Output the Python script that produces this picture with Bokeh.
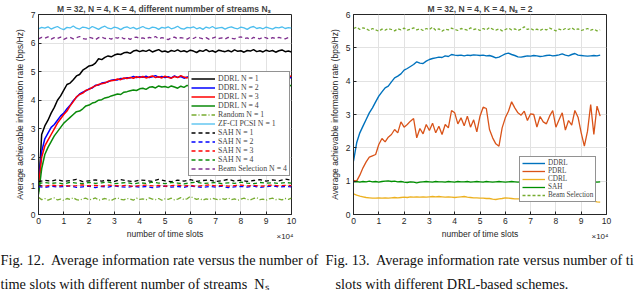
import numpy as np
from bokeh.plotting import figure
from bokeh.models import Legend, LegendItem, Label, FixedTicker, Range1d, Title
from bokeh.layouts import column, row
from bokeh.embed import file_html
from bokeh.resources import INLINE

# ---------------- data (x in units of 10^4 time slots) ----------------
x_left = np.arange(81) * 0.125
x_sah = np.arange(41) * 0.25
x_right = np.arange(79) * 0.125

ddrl_n1 = [0.80,2.80,3.10,3.30,3.55,3.75,4.00,4.15,4.35,4.55,
           4.60,4.72,4.85,4.90,5.05,5.12,5.20,5.22,5.30,5.45,
           5.42,5.50,5.55,5.52,5.58,5.62,5.60,5.66,5.68,5.64,
           5.72,5.75,5.70,5.74,5.71,5.76,5.69,5.73,5.77,5.70,
           5.72,
           5.68,5.74,5.71,5.76,5.70,5.73,5.69,5.75,5.72,5.67,
           5.74,5.71,5.77,5.70,5.73,5.68,5.75,5.72,5.70,5.74,
           5.69,5.76,5.71,5.73,5.68,5.74,5.72,5.77,5.70,5.73,
           5.69,5.75,5.71,5.74,5.68,5.73,5.76,5.70,5.72,5.69]
ddrl_n2 = [1.10,2.20,2.65,2.85,3.05,3.15,3.30,3.45,3.55,3.70,
           3.82,3.98,4.10,4.22,4.28,4.33,4.40,4.43,4.52,4.53,
           4.60,4.62,4.64,4.70,4.72,4.71,4.76,4.75,4.79,4.78,
           4.83,4.79,4.82,4.80,4.84,4.79,4.82,4.86,4.80,4.83,
           4.79,
           4.82,4.78,4.85,4.80,4.83,4.77,4.81,4.86,4.79,4.82,
           4.78,4.84,4.80,4.76,4.83,4.81,4.78,4.85,4.79,4.82,
           4.80,4.77,4.84,4.81,4.79,4.83,4.78,4.82,4.80,4.76,
           4.84,4.79,4.82,4.78,4.81,4.80,4.83,4.79,4.81,4.78]
ddrl_n3 = [1.00,2.00,2.40,2.60,2.80,3.00,3.20,3.35,3.50,3.62,
           3.80,3.95,4.12,4.20,4.25,4.35,4.38,4.45,4.50,4.55,
           4.58,4.60,4.66,4.68,4.70,4.74,4.72,4.78,4.76,4.80,
           4.77,4.82,4.79,4.83,4.78,4.81,4.85,4.79,4.82,4.78,
           4.84,
           4.80,4.77,4.83,4.79,4.86,4.81,4.78,4.84,4.80,4.76,
           4.82,4.79,4.85,4.81,4.78,4.83,4.80,4.77,4.84,4.81,
           4.79,4.86,4.80,4.78,4.83,4.81,4.77,4.84,4.80,4.82,
           4.78,4.85,4.81,4.79,4.83,4.80,4.77,4.84,4.82,4.85]
ddrl_n4 = [0.70,1.60,2.10,2.35,2.55,2.75,2.90,3.05,3.20,3.30,
           3.40,3.50,3.60,3.62,3.70,3.80,3.83,3.90,3.93,4.00,
           4.02,4.08,4.10,4.15,4.18,4.22,4.20,4.28,4.30,4.33,
           4.36,4.34,4.40,4.42,4.38,4.45,4.47,4.43,4.50,4.46,
           4.48,
           4.44,4.50,4.46,4.42,4.49,4.45,4.52,4.47,4.43,4.50,
           4.46,4.48,4.44,4.51,4.47,4.45,4.49,4.43,4.48,4.46,
           4.52,4.47,4.44,4.50,4.46,4.49,4.45,4.51,4.47,4.44,
           4.48,4.46,4.50,4.45,4.49,4.47,4.52,4.46,4.48,4.53]
random_n1 = [0.60,0.52,0.56,0.50,0.55,0.58,0.51,0.54,0.49,0.56,0.53,0.59,0.52,0.50,0.55,0.57,0.51,0.54,0.58,0.50,
             0.53,0.56,0.52,0.49,0.55,0.58,0.53,0.51,0.56,0.54,0.50,0.57,0.53,0.55,0.51,0.58,0.54,0.52,0.56,0.50,
             0.55,0.53,0.57,0.51,0.54,0.59,0.52,0.55,0.63,0.58,0.53,0.56,0.50,0.55,0.52,0.57,0.54,0.51,0.56,0.53,
             0.58,0.52,0.55,0.50,0.54,0.57,0.53,0.51,0.56,0.59,0.52,0.54,0.50,0.55,0.57,0.52,0.54,0.51,0.56,0.53,0.57]
zfci_n1 = [6.50,6.55,6.52,6.57,6.49,6.54,6.58,6.51,6.47,6.55,6.53,6.60,6.52,6.49,6.56,6.54,6.50,6.58,6.53,6.48,
           6.55,6.59,6.52,6.50,6.56,6.53,6.47,6.54,6.57,6.51,6.55,6.49,6.53,6.58,6.52,6.50,6.56,6.54,6.48,6.55,
           6.52,6.57,6.50,6.53,6.59,6.51,6.49,6.55,6.53,6.57,6.50,6.54,6.48,6.56,6.52,6.58,6.51,6.53,6.55,6.49,
           6.54,6.57,6.52,6.50,6.56,6.53,6.48,6.55,6.58,6.51,6.54,6.50,6.56,6.52,6.49,6.55,6.53,6.57,6.51,6.54,6.52]
beam_n4 = [6.15,6.20,6.17,6.22,6.14,6.19,6.16,6.21,6.13,6.18,6.20,6.15,6.19,6.23,6.16,6.14,6.20,6.17,6.12,6.19,
           6.21,6.16,6.18,6.14,6.20,6.17,6.22,6.15,6.18,6.13,6.19,6.21,6.16,6.18,6.14,6.20,6.17,6.23,6.15,6.19,
           6.16,6.12,6.18,6.21,6.15,6.19,6.17,6.14,6.20,6.16,6.22,6.18,6.15,6.19,6.13,6.17,6.21,6.16,6.18,6.14,
           6.20,6.17,6.15,6.19,6.22,6.16,6.18,6.13,6.20,6.17,6.15,6.21,6.18,6.14,6.19,6.16,6.20,6.17,6.15,6.19,6.18]
sah_n1 = [1.15,1.20,1.17,1.22,1.16,1.19,1.23,1.15,1.18,1.21,1.17,1.20,1.16,1.22,1.18,1.15,1.21,1.19,1.16,1.23,
          1.18,1.15,1.20,1.17,1.22,1.16,1.19,1.21,1.15,1.18,1.23,1.17,1.20,1.16,1.19,1.22,1.17,1.21,1.18,1.24,1.20]
sah_n2 = [0.98,0.95,0.99,0.96,0.98,1.00,0.95,0.97,0.99,0.94,0.98,0.96,1.00,0.97,0.95,0.99,0.96,0.98,0.94,0.97,
          0.99,0.96,0.98,0.95,1.00,0.97,0.95,0.98,0.96,0.99,0.94,0.97,0.98,0.96,0.99,0.95,0.97,1.00,0.96,0.98,0.97]
sah_n3 = [1.02,0.99,1.03,1.00,1.02,0.99,1.01,1.04,1.00,1.02,0.99,1.03,1.01,1.00,1.02,0.98,1.01,1.03,1.00,1.02,
          0.99,1.01,1.03,1.00,1.02,0.99,1.01,1.04,1.00,1.02,0.99,1.01,1.03,1.00,1.02,0.99,1.01,1.03,1.00,1.02,1.01]
sah_n4 = [1.08,1.12,1.09,1.11,1.07,1.13,1.10,1.08,1.12,1.09,1.11,1.14,1.08,1.10,1.12,1.07,1.11,1.09,1.13,1.10,
          1.08,1.12,1.10,1.07,1.11,1.13,1.09,1.10,1.12,1.08,1.11,1.09,1.13,1.10,1.08,1.12,1.10,1.11,1.09,1.12,1.10]

r_ddrl = [1.60,2.15,2.45,2.65,2.85,3.05,3.20,3.38,3.55,3.68,
          3.80,3.85,3.98,4.10,4.15,4.22,4.33,4.38,4.44,4.50,
          4.58,4.54,4.53,4.60,4.65,4.68,4.70,4.72,4.71,4.76,
          4.74,4.80,4.78,4.77,4.78,4.76,4.78,4.77,4.79,4.78,
          4.77,4.78,4.76,4.77,4.74,4.70,4.72,4.77,4.82,4.84,
          4.80,4.77,4.73,4.72,4.74,4.76,4.75,4.77,4.76,4.74,
          4.75,4.77,4.78,4.76,4.77,4.79,4.82,4.78,4.76,4.80,
          4.83,4.78,4.77,4.76,4.75,4.76,4.77,4.76,4.78]
r_pdrl = [1.02,1.00,1.18,1.40,1.58,1.72,1.76,1.80,2.10,2.28,
          2.18,2.32,2.40,2.55,2.45,2.78,2.62,2.70,2.80,2.88,
          2.30,2.58,2.42,2.70,2.52,2.74,2.45,2.65,2.40,2.70,
          2.60,3.12,3.05,2.72,2.90,2.66,2.95,2.62,2.84,2.48,
          2.95,3.22,3.18,2.55,2.30,2.12,2.05,2.60,2.90,3.10,
          3.38,3.20,3.05,2.98,3.10,2.82,3.02,3.00,2.62,2.94,
          2.78,2.72,2.95,3.12,2.62,2.84,3.05,2.53,2.82,2.68,
          3.12,2.92,2.45,2.05,2.50,3.30,2.40,3.25,2.95]
r_cdrl = [0.62,0.58,0.55,0.53,0.51,0.50,0.49,0.49,0.50,0.49,0.50,0.49,0.50,0.51,0.50,0.51,0.52,0.51,0.53,0.52,
          0.53,0.52,0.53,0.52,0.53,0.54,0.53,0.54,0.53,0.52,0.53,0.52,0.51,0.52,0.53,0.54,0.52,0.51,0.50,0.50,
          0.49,0.49,0.48,0.48,0.46,0.45,0.47,0.48,0.50,0.49,0.48,0.47,0.47,0.47,0.46,0.47,0.47,0.46,0.46,0.47,
          0.47,0.46,0.46,0.47,0.47,0.46,0.46,0.45,0.45,0.45,0.44,0.44,0.43,0.43,0.42,0.41,0.40,0.38,0.37]
r_sah = [0.98,0.99,0.97,0.99,0.98,1.00,0.98,0.99,0.97,0.99,1.00,1.01,0.99,1.00,0.98,0.99,0.97,0.96,0.98,0.97,
         0.95,0.97,0.98,0.99,0.98,0.97,0.99,0.98,0.98,0.97,0.99,0.98,0.97,0.99,0.98,0.98,0.99,0.97,0.98,0.99,
         0.98,0.97,0.99,0.98,0.97,0.98,0.99,0.98,0.97,0.98,0.99,0.98,0.97,0.98,0.98,0.99,0.97,0.98,0.99,0.98,
         0.97,0.98,0.99,0.98,0.97,0.98,0.98,0.99,0.97,0.98,0.99,0.98,0.98,0.97,0.98,0.99,0.98,0.97,0.98]
r_beam = [5.58,5.62,5.55,5.60,5.57,5.52,5.58,5.54,5.50,5.56,5.53,5.58,5.55,5.51,5.57,5.54,5.59,5.53,5.56,5.60,
          5.54,5.57,5.52,5.58,5.55,5.62,5.53,5.57,5.50,5.56,5.54,5.59,5.55,5.52,5.58,5.56,5.53,5.60,5.55,5.57,
          5.52,5.58,5.54,5.61,5.56,5.53,5.57,5.51,5.55,5.59,5.54,5.57,5.52,5.56,5.63,5.55,5.58,5.53,5.56,5.52,
          5.57,5.54,5.59,5.55,5.51,5.56,5.53,5.58,5.55,5.60,5.54,5.57,5.52,5.55,5.58,5.53,5.56,5.51,5.54]

x_ticks = list(range(0, 11))

for arr in (ddrl_n1, ddrl_n2, ddrl_n3, ddrl_n4, random_n1, zfci_n1, beam_n4):
    assert len(arr) == len(x_left), len(arr)
for arr in (sah_n1, sah_n2, sah_n3, sah_n4):
    assert len(arr) == len(x_sah), len(arr)
for arr in (r_ddrl, r_pdrl, r_cdrl, r_sah, r_beam):
    assert len(arr) == len(x_right), len(arr)

# ---------------- styling ----------------
SANS = "Liberation Sans"
SERIF = "Liberation Serif"
AX = "#262626"


def make_fig(ymax, title, bl, br):
    p = figure(width=320, height=244, x_range=Range1d(0, 10), y_range=Range1d(0, ymax),
               output_backend="svg", toolbar_location=None,
               min_border_left=bl, min_border_right=br, min_border_top=14, min_border_bottom=30)
    p.title.text = title
    p.title.text_font = SANS
    p.title.text_font_size = "8.5px"
    p.title.text_font_style = "bold"
    p.title.align = "center"
    p.title.standoff = 2
    p.xaxis.ticker = FixedTicker(ticks=x_ticks)
    p.yaxis.ticker = FixedTicker(ticks=list(range(0, ymax + 1)))
    for ax in (p.xaxis[0], p.yaxis[0]):
        ax.major_tick_in = 3
        ax.major_tick_out = 0
        ax.minor_tick_line_color = None
        ax.axis_line_color = AX
        ax.major_tick_line_color = AX
        ax.major_label_text_font = SANS
        ax.major_label_text_font_size = "8.5px"
        ax.major_label_text_color = AX
        ax.axis_label_text_font = SANS
        ax.axis_label_text_font_size = "8.5px"
        ax.axis_label_text_font_style = "normal"
        ax.axis_label_text_color = AX
    p.xaxis.major_label_standoff = 3
    p.yaxis.major_label_standoff = 3
    p.xaxis.axis_label_standoff = 2
    p.yaxis.axis_label_standoff = 3
    p.xaxis.axis_label = "number of time slots"
    p.yaxis.axis_label = "Average achievable information rate (bps/Hz)"
    p.grid.grid_line_color = "#e2e2e2"
    p.outline_line_color = AX
    p.outline_line_alpha = 1
    p.add_layout(Title(text="×10⁴", align="right", vertical_align="top", text_font=SANS,
                       text_font_size="8px", text_font_style="normal", text_color=AX,
                       standoff=-20, offset=-2),
                 "below")
    return p


def make_legend(items, loc, font_size, row_h, glyph_w):
    lg = Legend(items=items, location=loc)
    lg.label_text_font = SERIF
    lg.label_text_font_size = font_size
    lg.label_height = row_h
    lg.glyph_height = row_h
    lg.glyph_width = glyph_w
    lg.spacing = 0
    lg.padding = 2
    lg.margin = 0
    lg.label_standoff = 3
    lg.border_line_color = AX
    lg.border_line_width = 0.8
    lg.background_fill_alpha = 1
    return lg


# ---------------- left plot ----------------
p1 = make_fig(7, "M = 32, N = 4, K = 4, different nummber of streams  Nₛ", 38, 29)
G = "#0a8a0a"
r = {}
r["d1"] = p1.line(x_left, ddrl_n1, line_color="black", line_width=1.5)
r["d2"] = p1.line(x_left, ddrl_n2, line_color="#0000ff", line_width=1.5)
r["d3"] = p1.line(x_left, ddrl_n3, line_color="#ff0000", line_width=1.5)
r["d4"] = p1.line(x_left, ddrl_n4, line_color=G, line_width=1.5)
r["rnd"] = p1.line(x_left, random_n1, line_color="#77ac30", line_width=1.3, line_dash="5 2 1 2")
r["zf"] = p1.line(x_left, zfci_n1, line_color="#4dbeee", line_width=1.3)
r["s1"] = p1.line(x_sah, sah_n1, line_color="black", line_width=1.3, line_dash="4 3")
r["s2"] = p1.line(x_sah, sah_n2, line_color="#0000ff", line_width=1.3, line_dash="4 3")
r["s3"] = p1.line(x_sah, sah_n3, line_color="#ff0000", line_width=1.3, line_dash="4 3")
r["s4"] = p1.line(x_sah, sah_n4, line_color=G, line_width=1.3, line_dash="4 3")
r["bs"] = p1.line(x_left, beam_n4, line_color="#7e2f8e", line_width=1.3, line_dash="4 3")

labels_left = [("DDRL N = 1", "d1"), ("DDRL N = 2", "d2"), ("DDRL N = 3", "d3"),
               ("DDRL N = 4", "d4"), ("Random N = 1", "rnd"), ("ZF-CI PCSI N = 1", "zf"),
               ("SAH N = 1", "s1"), ("SAH N = 2", "s2"), ("SAH N = 3", "s3"),
               ("SAH N = 4", "s4"), ("Beam Selection N = 4", "bs")]
leg1 = make_legend([LegendItem(label=t, renderers=[r[k]]) for t, k in labels_left],
                   (150, 38), "7.8px", 9, 24)
p1.add_layout(leg1)

# ---------------- right plot ----------------
p2 = make_fig(6, "M = 32, N = 4, K = 4, Nₛ = 2", 33, 34)
q = {}
q["ddrl"] = p2.line(x_right, r_ddrl, line_color="#0072bd", line_width=1.4)
q["pdrl"] = p2.line(x_right, r_pdrl, line_color="#d95319", line_width=1.3)
q["cdrl"] = p2.line(x_right, r_cdrl, line_color="#edb120", line_width=1.3)
q["sah"] = p2.line(x_right, r_sah, line_color="#008f00", line_width=1.3)
q["bs"] = p2.line(x_right, r_beam, line_color="#77ac30", line_width=1.3, line_dash="3 2")
labels_right = [("DDRL", "ddrl"), ("PDRL", "pdrl"), ("CDRL", "cdrl"), ("SAH", "sah"),
                ("Beam Selection", "bs")]
leg2 = make_legend([LegendItem(label=t, renderers=[q[k]]) for t, k in labels_right],
                   (166, 12), "7.2px", 8, 23)
p2.add_layout(leg2)

# ---------------- captions ----------------
cap = figure(width=640, height=46, x_range=Range1d(0, 640), y_range=Range1d(0, 46),
             output_backend="svg", toolbar_location=None, min_border=0)
cap.axis.visible = False
cap.grid.visible = False
cap.outline_line_color = None
NB = "\u00a0"
captions = [
    (0, 31, "Fig. 12." + NB + " Average information rate versus the number of"),
    (0, 7, "time slots with different number of streams " + NB + "Nₛ"),
    (325, 31, "Fig. 13." + NB + " Average information rate versus number of ti"),
    (335, 7, "slots with different DRL-based schemes."),
]
for cx, cy, txt in captions:
    cap.add_layout(Label(x=cx, y=cy, text=txt, text_font=SERIF, text_font_size="14.3px",
                         text_color="#111111", text_baseline="alphabetic", text_align="left"))

layout = column(row(p1, p2), cap)
open("out.html", "w").write(file_html(layout, INLINE))
